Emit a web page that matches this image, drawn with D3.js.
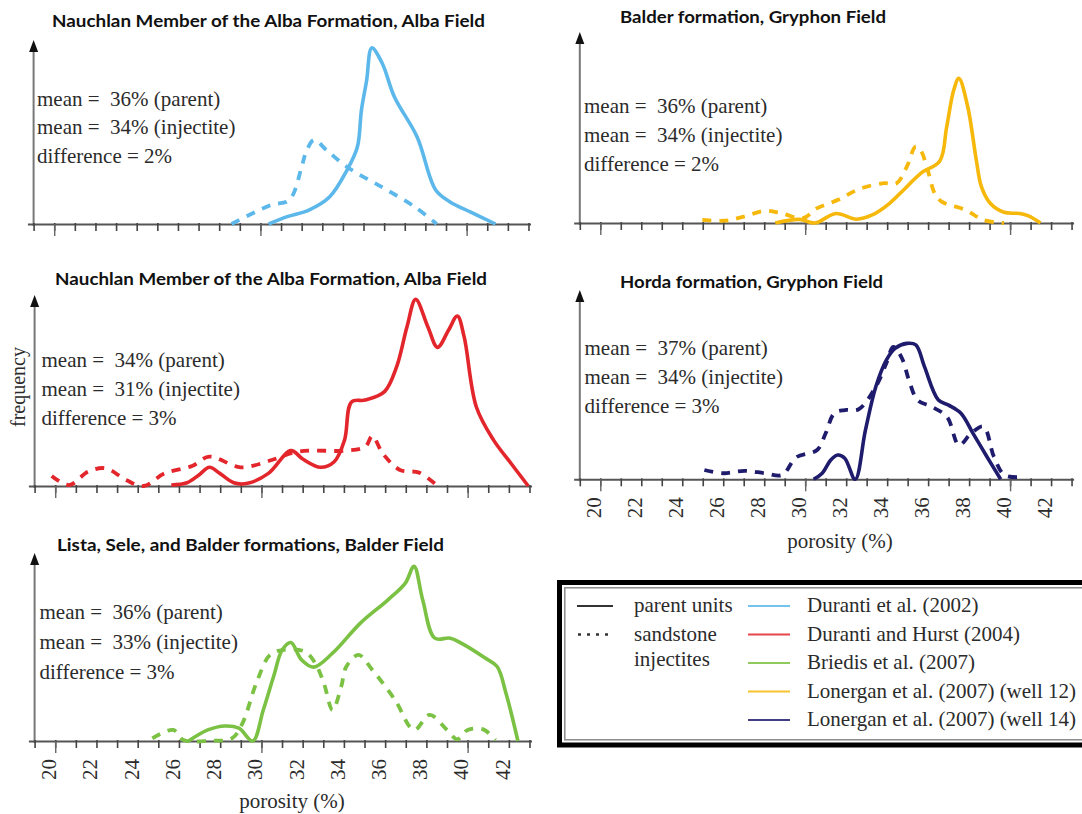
<!DOCTYPE html>
<html>
<head>
<meta charset="utf-8">
<script src="https://cdn.jsdelivr.net/npm/d3@7"></script>
<style>
  body { margin: 0; background: #fff; }
  svg { display: block; }
  text { white-space: pre; }
</style>
</head>
<body>
<svg id="chart" width="1082" height="814"></svg>
<script>
// ---- Porosity (%) vs relative frequency (0–100 = full height of the frequency axis) ----

// Duranti et al. (2002) — Nauchlan Member, Alba Field
const durantiParentPorosity = [30.4, 31.3, 32.35, 33.35, 34.2, 34.7, 34.9, 35.15, 35.4, 35.9, 36.5, 37.6, 38.5, 39.2, 40.2, 41.4];
const durantiParentFreq     = [0, 4, 7.6, 14.7, 29.3, 41.8, 62, 78, 95.7, 87.5, 69, 47.3, 18.5, 12, 6.5, 0];
const durantiInjectitePorosity = [28.6, 30.5, 31.4, 32.0, 32.2, 32.6, 33.2, 34.2, 35.9, 37.5, 38.55];
const durantiInjectiteFreq     = [0, 10.3, 13, 31, 38.6, 45.7, 40.2, 31, 20, 9.2, 0];

// Lonergan et al. (2007) well 12 — Balder formation, Gryphon Field
const well12ParentPorosity = [28.54, 29.72, 30.48, 31.5, 32.5, 33.27, 34.12, 34.8, 35.64, 36.57, 36.9, 37.25, 37.5, 37.93, 38.35, 38.6, 39.03, 39.7, 40.47, 40.9, 41.48];
const well12ParentFreq     = [0, 1.9, 0, 5, 2, 4.2, 10.3, 17.3, 26, 32.5, 50, 69.6, 75.7, 61, 33, 19, 10.3, 5.6, 5, 3.7, 0];
const well12InjectitePorosity = [24.98, 26.07, 27.0, 28.03, 28.87, 29.9, 30.57, 31.58, 32.6, 33.78, 34.46, 34.96, 35.39, 35.64, 35.98, 36.32, 36.66, 37.84, 38.69, 39.7];
const well12InjectiteFreq     = [1.6, 1.2, 3.3, 6.4, 5, 2.5, 7.7, 12, 17.6, 20.8, 20.8, 29.5, 40, 38, 27.7, 15.5, 11.2, 6.8, 1.6, 0];

// Duranti and Hurst (2004) — Nauchlan Member, Alba Field
const hurstParentPorosity = [25.63, 26.39, 26.97, 27.48, 27.98, 28.66, 29.33, 30.34, 31.43, 32.02, 32.86, 33.53, 34.03, 34.37, 35.04, 35.97, 36.56, 37.06, 37.48, 38.07, 38.54, 39.08, 39.5, 39.83, 40.42, 41.26, 42.1, 42.94];
const hurstParentFreq     = [0.5, 1.7, 5.8, 9.8, 6.6, 1.7, 1.4, 6.6, 18.5, 14, 9.8, 12.7, 24, 44, 45, 49.4, 62.5, 83.4, 97.7, 83.4, 72.6, 81.7, 89, 78.2, 41.5, 24, 11.9, 0];
const hurstInjectitePorosity = [19.83, 20.67, 21.6, 22.44, 23.44, 24.29, 25.3, 26.64, 27.48, 28.99, 30.5, 31.51, 32.35, 34.03, 35.04, 35.38, 35.88, 36.72, 37.65, 38.49];
const hurstInjectiteFreq     = [5.2, 0.5, 7.5, 9.3, 3.1, 0, 6.6, 10.5, 15.4, 9.8, 13.6, 17.4, 18.5, 18.5, 20.6, 26.2, 17.1, 8.4, 7, 0.5];

// Lonergan et al. (2007) well 14 — Horda formation, Gryphon Field
const well14ParentPorosity = [30.41, 30.83, 31.25, 31.59, 31.93, 32.44, 32.94, 33.45, 33.96, 34.39, 34.97, 35.4, 35.82, 36.5, 37.0, 37.6, 38.19, 38.87, 39.54];
const well14ParentFreq     = [0, 3.2, 10.2, 12.8, 11.1, 0, 26, 49, 63, 69.2, 71.8, 71, 59.5, 41.9, 39.2, 34.9, 24.3, 11.9, 0];
const well14InjectitePorosity = [25.08, 26.01, 27.03, 28.04, 28.88, 29.56, 30.58, 31.0, 31.42, 31.93, 32.61, 33.45, 33.96, 34.3, 34.72, 35.06, 35.48, 36.16, 36.92, 37.51, 38.1, 38.7, 39.21, 39.72, 40.39];
const well14InjectiteFreq     = [4.9, 3.2, 4.5, 3.2, 2.3, 11.6, 15.5, 24.3, 34.9, 36.6, 37, 49, 61.3, 70, 64, 52.5, 41.9, 38.4, 33, 18.1, 24.3, 27.8, 11.9, 2.3, 1.1];

// Briedis et al. (2007) — Lista, Sele and Balder formations, Balder Field
const briedisParentPorosity = [26.47, 27.4, 28.24, 28.91, 29.58, 30.09, 30.59, 31.01, 31.43, 31.94, 32.53, 33.45, 34.8, 36.14, 36.98, 37.4, 37.82, 38.41, 39.16, 39.84, 40.85, 41.43, 41.86, 42.44];
const briedisParentFreq     = [0, 5.9, 8, 6.8, 0, 16.5, 34.3, 48.5, 52.4, 43.2, 39.3, 46.7, 62.7, 75.1, 84, 92.9, 75.1, 54.7, 54.7, 51.1, 44.1, 39.6, 25.4, 0];
const briedisInjectitePorosity = [24.71, 25.72, 26.22, 27.56, 28.57, 29.08, 29.75, 30.42, 31.09, 32.1, 32.61, 33.03, 33.45, 33.87, 34.12, 34.71, 35.38, 36.48, 37.4, 38.16, 39.0, 39.5, 40.0, 40.76, 41.35];
const briedisInjectiteFreq     = [1.4, 5.9, 0.5, 0.2, 1.4, 9.4, 30.7, 45.8, 48.5, 47.6, 41.4, 30.7, 16.5, 28.9, 39.6, 45.8, 37.8, 21.8, 5.9, 13.9, 5.9, 0.9, 5.9, 6.2, 0.5];

// Panel titles and mean porosities, in drawing order
const panelTitles = [
  "Nauchlan Member of the Alba Formation, Alba Field",
  "Balder formation, Gryphon Field",
  "Nauchlan Member of the Alba Formation, Alba Field",
  "Horda formation, Gryphon Field",
  "Lista, Sele, and Balder formations, Balder Field"
];
const parentMeans    = [36, 36, 34, 37, 36];
const injectiteMeans = [34, 34, 31, 34, 33];

const porosityTicks = [20, 22, 24, 26, 28, 30, 32, 34, 36, 38, 40, 42];

const sourceNames  = ["Duranti et al. (2002)", "Duranti and Hurst (2004)", "Briedis et al. (2007)", "Lonergan et al. (2007) (well 12)", "Lonergan et al. (2007) (well 14)"];
const sourceColors = ["#5cb8ea", "#e3262b", "#7bc143", "#f6b80b", "#1f1b6d"];

// ---- layout ----
const SERIF = "'Liberation Serif','Times New Roman',serif";
const TEXT_COLOR = "#2b2b2b";
const NOTE_SIZE = 21;

const zip = (xs, ys) => xs.map((v, i) => [v, ys[i]]);

const panels = [
  { src: 0, titleX: 52,  titleY: 27,  titleW: 433, axisX: 33.6,  ppu: 20.62, base: 224,   top: 40,  noteX: 37,  noteY: [106, 134, 163], labels: false,
    parent: zip(durantiParentPorosity, durantiParentFreq), inj: zip(durantiInjectitePorosity, durantiInjectiteFreq) },
  { src: 3, titleX: 620, titleY: 23,  titleW: 266, axisX: 579.8, ppu: 20.49, base: 223,   top: 32,  noteX: 584, noteY: [113, 142, 171], labels: false,
    parent: zip(well12ParentPorosity, well12ParentFreq), inj: zip(well12InjectitePorosity, well12InjectiteFreq) },
  { src: 1, titleX: 55,  titleY: 285, titleW: 432, axisX: 34.6,  ppu: 20.62, base: 486,   top: 295, noteX: 41.5, noteY: [367, 396, 425], labels: false,
    parent: zip(hurstParentPorosity, hurstParentFreq), inj: zip(hurstInjectitePorosity, hurstInjectiteFreq) },
  { src: 4, titleX: 620, titleY: 288, titleW: 263, axisX: 579.8, ppu: 20.49, base: 479.3, top: 290, noteX: 584.5, noteY: [355, 384, 413], labels: true, xLabelX: 840, xLabelY: 548,
    parent: zip(well14ParentPorosity, well14ParentFreq), inj: zip(well14InjectitePorosity, well14InjectiteFreq) },
  { src: 2, titleX: 57,  titleY: 551, titleW: 387, axisX: 34.6,  ppu: 20.62, base: 741,   top: 553, noteX: 39.5, noteY: [619, 649, 679], labels: true, xLabelX: 292, xLabelY: 808,
    parent: zip(briedisParentPorosity, briedisParentFreq), inj: zip(briedisInjectitePorosity, briedisInjectiteFreq) }
];

const svg = d3.select("#chart");

function serif(parent, x, y, str, size) {
  return parent.append("text")
    .attr("x", x).attr("y", y)
    .attr("font-family", SERIF).attr("font-size", size)
    .attr("fill", TEXT_COLOR)
    .text(str);
}

panels.forEach((p, i) => {
  const g = svg.append("g");
  const color = sourceColors[p.src];

  const x = d3.scaleLinear()
    .domain([18.7, 43.1])
    .range([p.axisX - 0.3 * p.ppu, p.axisX + 24.1 * p.ppu]);
  const y = d3.scaleLinear().domain([0, 100]).range([p.base, p.top]);

  // title
  g.append("text")
    .attr("x", p.titleX).attr("y", p.titleY)
    .attr("font-family", "Lato, 'Open Sans', sans-serif")
    .attr("font-weight", 700).attr("font-size", 17.5)
    .attr("fill", "#111")
    .attr("textLength", p.titleW).attr("lengthAdjust", "spacingAndGlyphs")
    .text(panelTitles[i]);

  // frequency axis with arrow head
  g.append("line")
    .attr("x1", p.axisX).attr("x2", p.axisX)
    .attr("y1", p.base + 2).attr("y2", p.top + 8)
    .attr("stroke", "#777").attr("stroke-width", 2);
  g.append("path")
    .attr("d", `M${p.axisX - 4.5},${p.top + 12}L${p.axisX},${p.top}L${p.axisX + 4.5},${p.top + 12}Z`)
    .attr("fill", "#111");

  // porosity axis: minor ticks every 1 %, longer ticks every 10 %
  const minor = g.append("g")
    .attr("transform", `translate(0,${p.base})`)
    .call(d3.axisBottom(x).tickValues(d3.range(19, 44)).tickSize(7).tickSizeOuter(0).tickFormat(""));
  minor.select(".domain").attr("stroke", "#555").attr("stroke-width", 2);
  minor.selectAll(".tick line").attr("stroke", "#444").attr("stroke-width", 1.6).attr("y1", -1);

  const major = g.append("g")
    .attr("transform", `translate(0,${p.base})`)
    .call(d3.axisBottom(x).tickValues([20, 30, 40]).tickSize(12).tickFormat(""));
  major.select(".domain").remove();
  major.selectAll(".tick line").attr("stroke", "#666").attr("stroke-width", 1.4);

  if (p.labels) {
    const lab = g.append("g")
      .attr("transform", `translate(0,${p.base})`)
      .call(d3.axisBottom(x).tickValues(porosityTicks).tickSize(0).tickFormat(d3.format("d")));
    lab.select(".domain").remove();
    lab.attr("font-family", SERIF).attr("font-size", 21);
    lab.selectAll(".tick text")
      .attr("fill", TEXT_COLOR)
      .attr("x", 0).attr("y", 0).attr("dy", "0.34em")
      .attr("text-anchor", "middle")
      .attr("transform", "translate(-6.8,28.5) rotate(-90)");

    serif(g, p.xLabelX, p.xLabelY, "porosity (%)", NOTE_SIZE).attr("text-anchor", "middle");
  }

  // distributions
  const line = d3.line()
    .x(d => x(d[0])).y(d => y(d[1]))
    .curve(d3.curveCatmullRom.alpha(0.5));

  g.append("path")
    .datum(p.inj)
    .attr("d", line)
    .attr("fill", "none")
    .attr("stroke", color).attr("stroke-width", 3.8)
    .attr("stroke-dasharray", "9,8");

  g.append("path")
    .datum(p.parent)
    .attr("d", line)
    .attr("fill", "none")
    .attr("stroke", color).attr("stroke-width", 3.6)
    .attr("stroke-linejoin", "round");

  // mean annotations
  const diff = parentMeans[i] - injectiteMeans[i];
  serif(g, p.noteX, p.noteY[0], `mean =  ${parentMeans[i]}% (parent)`, NOTE_SIZE);
  serif(g, p.noteX, p.noteY[1], `mean =  ${injectiteMeans[i]}% (injectite)`, NOTE_SIZE);
  serif(g, p.noteX, p.noteY[2], `difference = ${diff}%`, NOTE_SIZE);
});

// shared frequency label
serif(svg, 0, 0, "frequency", 20)
  .attr("text-anchor", "middle")
  .attr("transform", "translate(25,387) rotate(-90)");

// ---- legend ----
const lg = svg.append("g");
lg.append("rect")
  .attr("x", 559.5).attr("y", 582.5).attr("width", 540).attr("height", 162.5)
  .attr("fill", "#fff").attr("stroke", "#000").attr("stroke-width", 5);
lg.append("rect")
  .attr("x", 564.8).attr("y", 587.8).attr("width", 530).attr("height", 152)
  .attr("fill", "none").attr("stroke", "#8a8a8a").attr("stroke-width", 1.5);

const rowY = [606, 634.5, 663, 691.5, 720];
lg.append("line").attr("x1", 577).attr("x2", 613).attr("y1", rowY[0]).attr("y2", rowY[0])
  .attr("stroke", "#333").attr("stroke-width", 2);
lg.append("line").attr("x1", 578).attr("x2", 614).attr("y1", rowY[1]).attr("y2", rowY[1])
  .attr("stroke", "#333").attr("stroke-width", 2.4).attr("stroke-dasharray", "3,6");
serif(lg, 634, rowY[0] + 6, "parent units", NOTE_SIZE);
serif(lg, 634, rowY[1] + 6, "sandstone", NOTE_SIZE);
serif(lg, 634, 660 + 6, "injectites", NOTE_SIZE);

sourceNames.forEach((name, k) => {
  lg.append("line")
    .attr("x1", 748).attr("x2", 790).attr("y1", rowY[k]).attr("y2", rowY[k])
    .attr("stroke", sourceColors[k]).attr("stroke-width", 2).attr("stroke-opacity", 0.85);
  serif(lg, 807, rowY[k] + 6, name, NOTE_SIZE);
});
</script>
</body>
</html>
